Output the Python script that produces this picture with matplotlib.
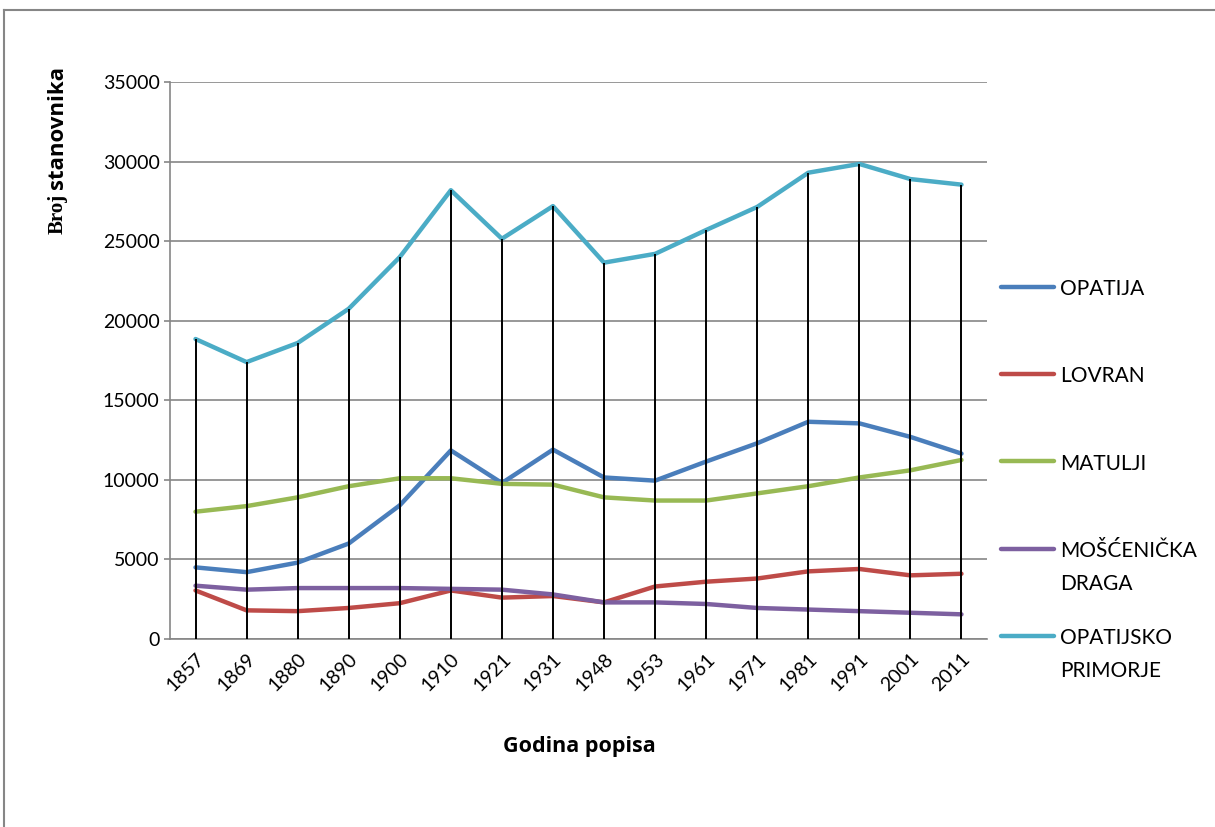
import matplotlib
matplotlib.use("Agg")
import matplotlib.pyplot as plt
from matplotlib.lines import Line2D
import numpy as np

years = ["1857", "1869", "1880", "1890", "1900", "1910", "1921", "1931",
         "1948", "1953", "1961", "1971", "1981", "1991", "2001", "2011"]

opatija = [4500, 4200, 4800, 6000, 8400, 11850, 9800, 11900,
           10150, 9950, 11150, 12300, 13650, 13550, 12700, 11650]
lovran = [3050, 1800, 1750, 1950, 2250, 3050, 2600, 2700,
          2300, 3300, 3600, 3800, 4250, 4400, 4000, 4100]
matulji = [8000, 8350, 8900, 9600, 10100, 10100, 9750, 9700,
           8900, 8700, 8700, 9150, 9600, 10150, 10600, 11250]
moscenicka = [3350, 3100, 3200, 3200, 3200, 3150, 3100, 2800,
              2300, 2300, 2200, 1950, 1850, 1750, 1650, 1550]
primorje = [18850, 17400, 18600, 20750, 24000, 28200, 25150, 27200,
            23650, 24200, 25700, 27150, 29300, 29850, 28900, 28550]

series_names = ["OPATIJA", "LOVRAN", "MATULJI", "MOŠĆENIČKA\nDRAGA", "OPATIJSKO\nPRIMORJE"]
series_values = [opatija, lovran, matulji, moscenicka, primorje]
series_colors = ["#4A7EBB", "#BE4B48", "#98B954", "#7D60A0", "#4BACC6"]

y_ticks = [0, 5000, 10000, 15000, 20000, 25000, 30000, 35000]

W, H = 1215, 827
fig = plt.figure(figsize=(W / 100, H / 100), dpi=100)
fig.patch.set_facecolor("white")

def fx(px):
    return px / W

def fy(py):
    return 1 - py / H

ax = fig.add_axes([fx(170), fy(639), fx(987) - fx(170), fy(82) - fy(639)])
x = np.arange(len(years))

grid_color = "#868686"
for vals, col in zip(series_values, series_colors):
    ax.plot(x, vals, color=col, lw=3.2, solid_capstyle="round",
            solid_joinstyle="round", zorder=3)

top = np.max(np.array(series_values), axis=0)
ax.vlines(x, 0, top, color="black", lw=1.4, zorder=4)

ax.set_xlim(-0.5, len(years) - 0.5)
ax.set_ylim(0, 35000)
ax.set_yticks(y_ticks)
ax.set_yticklabels([str(v) for v in y_ticks])
ax.set_xticks(x)
ax.set_xticklabels(years, rotation=45, ha="right", va="top", rotation_mode="anchor")

ax.yaxis.grid(True, color=grid_color, lw=1.2, zorder=1)
ax.set_axisbelow(True)
for s in ["top", "right"]:
    ax.spines[s].set_visible(False)
for s in ["left", "bottom"]:
    ax.spines[s].set_color(grid_color)
    ax.spines[s].set_linewidth(1.2)

tick_font = "Lato"
ax.tick_params(axis="y", length=4.5, width=1.2, color=grid_color, pad=3,
               labelsize=14, labelcolor="black")
ax.tick_params(axis="x", length=0, pad=8, labelsize=14, labelcolor="black")
for lab in ax.get_yticklabels() + ax.get_xticklabels():
    lab.set_fontfamily(tick_font)

# axis titles
fig.text(fx(579), fy(752), "Godina popisa", ha="center", va="baseline",
         fontsize=15.5, fontweight="bold", family="Open Sans")
fig.text(fx(58), fy(234), "Broj", rotation=90, ha="center", va="bottom",
         fontsize=15, fontweight="bold", family="Liberation Serif")
fig.text(fx(58), fy(189), "stanovnika", rotation=90, ha="center", va="bottom",
         fontsize=16, fontweight="bold", family="Open Sans")

# legend
for i, (name, col) in enumerate(zip(series_names, series_colors)):
    yl = 286.7 + i * 87.3
    fig.add_artist(Line2D([fx(1001), fx(1054)], [fy(yl), fy(yl)], color=col,
                          lw=3.2, solid_capstyle="round"))
    fig.text(fx(1060), fy(yl - 7.5), name, ha="left", va="top", fontsize=15,
             family="Lato", linespacing=1.78)

# outer border
fig.add_artist(Line2D([fx(4), fx(4)], [fy(10), -0.01], color=grid_color, lw=1.5))
fig.add_artist(Line2D([fx(4), 1.01], [fy(10), fy(10)], color=grid_color, lw=1.5))

fig.savefig("out.png", dpi=100, facecolor="white")
